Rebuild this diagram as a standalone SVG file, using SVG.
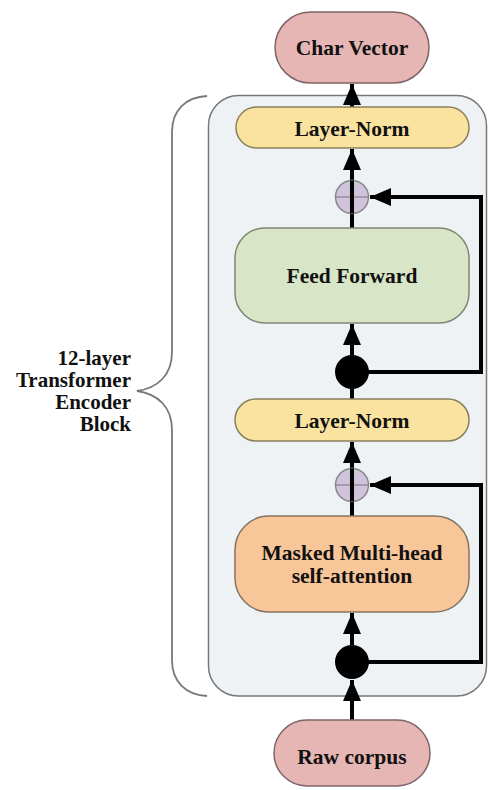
<svg xmlns="http://www.w3.org/2000/svg" width="488" height="790" viewBox="0 0 488 790">
<defs>
<style>
.t{font-family:"Liberation Serif","Times New Roman",serif;font-weight:bold;font-size:21.5px;fill:#111;text-anchor:middle}
.lbl{font-family:"Liberation Serif","Times New Roman",serif;font-weight:bold;font-size:21px;fill:#111;text-anchor:end}
.ln{stroke:#000;stroke-width:4;fill:none}
.io{fill:#e5b6b4;stroke:#7d6565;stroke-width:1.5}
.norm{fill:#f9e39f;stroke:#8a7f5c;stroke-width:1.5}
.ff{fill:#d8e5c6;stroke:#7f8576;stroke-width:1.5}
.att{fill:#f8c699;stroke:#86735f;stroke-width:1.5}
.plus{fill:#cfc3dd;stroke:#888;stroke-width:1.5}
.pl{stroke:#777;stroke-width:1.2}
</style>
<marker id="ah" markerUnits="userSpaceOnUse" markerWidth="24" markerHeight="19" refX="21" refY="9" orient="auto">
<path d="M0,0 L21,9 L0,18 Z" fill="#000"/>
</marker>
</defs>
<rect width="488" height="790" fill="#fff"/>
<g id="encoder-block">
<rect x="208.5" y="95.5" width="278" height="600.5" rx="30" fill="#eff2f5" stroke="#777" stroke-width="1.5"/>
</g>
<g id="brace">
<path d="M207,96 C186,97 172,110 172,132 L172,352 C172,375 158,388 137,391 C158,394 172,407 172,430 L172,660 C172,682 186,695 207,696" fill="none" stroke="#777" stroke-width="1.8"/>
<text class="lbl" x="131" y="365">12-layer</text>
<text class="lbl" x="131" y="387">Transformer</text>
<text class="lbl" x="131" y="409">Encoder</text>
<text class="lbl" x="131" y="431">Block</text>
</g>
<g id="connectors">
<line class="ln" x1="352" y1="720" x2="352" y2="680" marker-end="url(#ah)"/>
<line class="ln" x1="352" y1="645" x2="352" y2="613" marker-end="url(#ah)"/>
<line class="ln" x1="352" y1="516" x2="352" y2="442" marker-end="url(#ah)"/>
<line class="ln" x1="352" y1="399" x2="352" y2="372"/>
<line class="ln" x1="352" y1="356" x2="352" y2="324" marker-end="url(#ah)"/>
<line class="ln" x1="352" y1="228" x2="352" y2="149" marker-end="url(#ah)"/>
<line class="ln" x1="352" y1="107" x2="352" y2="84" marker-end="url(#ah)"/>
<path class="ln" d="M352,662 L481,662 L481,485 L370,485" marker-end="url(#ah)"/>
<path class="ln" d="M352,372 L481,372 L481,197 L370,197" marker-end="url(#ah)"/>
</g>
<g id="char-vector">
<rect class="io" x="275" y="12" width="154" height="71" rx="35.5"/>
<text class="t" x="352" y="55">Char Vector</text>
</g>
<g id="layer-norm-top">
<rect class="norm" x="236" y="107" width="233" height="41" rx="20.5"/>
<text class="t" x="352" y="135.5">Layer-Norm</text>
</g>
<g id="add-top">
<circle class="plus" cx="352" cy="197" r="16.5"/>
<line class="pl" x1="335.5" y1="197" x2="368.5" y2="197"/>
<line class="ln" x1="352" y1="180.5" x2="352" y2="213.5"/>
</g>
<g id="feed-forward">
<rect class="ff" x="235" y="228" width="234" height="95" rx="30"/>
<text class="t" x="352" y="283">Feed Forward</text>
</g>
<g id="split-top">
<circle cx="352" cy="372" r="17" fill="#000"/>
</g>
<g id="layer-norm-bottom">
<rect class="norm" x="235" y="399" width="234" height="42" rx="21"/>
<text class="t" x="352" y="427.5">Layer-Norm</text>
</g>
<g id="add-bottom">
<circle class="plus" cx="352" cy="485" r="16.5"/>
<line class="pl" x1="335.5" y1="485" x2="368.5" y2="485"/>
<line class="ln" x1="352" y1="468.5" x2="352" y2="501.5"/>
</g>
<g id="masked-attention">
<rect class="att" x="235" y="516" width="234" height="96" rx="34"/>
<text class="t" x="352" y="560">Masked Multi-head</text>
<text class="t" x="352" y="583">self-attention</text>
</g>
<g id="split-bottom">
<circle cx="352" cy="662" r="17" fill="#000"/>
</g>
<g id="raw-corpus">
<rect class="io" x="274" y="720" width="156" height="66" rx="33"/>
<text class="t" x="352" y="764">Raw corpus</text>
</g>
</svg>
